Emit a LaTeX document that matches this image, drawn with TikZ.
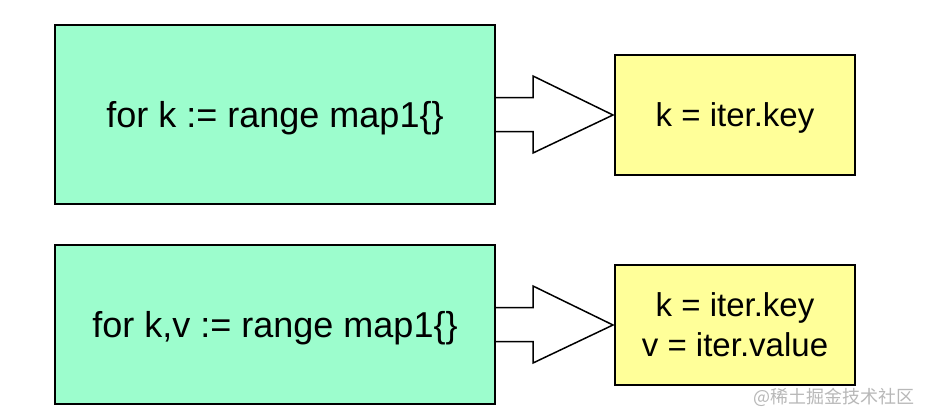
\documentclass[tikz,border=0pt]{standalone}
\usepackage{fontspec}
\setmainfont{Liberation Sans}
\newfontfamily\cjkfont{Noto Sans CJK SC}
\usetikzlibrary{calc}
\definecolor{mint}{HTML}{9CFDCD}
\definecolor{lightyellow}{HTML}{FFFF99}
\definecolor{wmgray}{HTML}{B8B8B8}
\tikzset{
  leftbox/.style={draw=black, line width=2pt, fill=mint, minimum width=440pt, inner sep=0pt, text depth=0pt, font=\fontsize{36}{40}\selectfont},
  rightbox/.style={draw=black, line width=2pt, fill=lightyellow, minimum width=240pt, minimum height=120pt, inner sep=0pt, align=center, font=\fontsize{33}{40}\selectfont},
  blockarrow/.style={draw=black, line width=1.5pt, fill=white, line join=miter},
}
\begin{document}
\begin{tikzpicture}[x=1pt, y=-1pt]
\useasboundingbox (0,0) rectangle (932,420);
\fill[white] (0,0) rectangle (932,420);
\node[leftbox, minimum height=179pt] (a1) at (275,114.5) {for k := range map1\{\}};
\node[rightbox, text depth=0pt] (b1) at (735,115) {k = iter.key};
\node[leftbox, minimum height=159pt] (a2) at (275,324.5) {for k,v := range map1\{\}};
\node[rightbox] (b2) at (735,325) {k = iter.key\\v = iter.value};
\foreach \s/\t in {a1/b1, a2/b2} {
  \draw[blockarrow] ($(\s.east)+(0,-17)$) -- ++(37,0) -- ++(0,-21.5)
     -- ($(\t.west)+(-1,0)$) -- ($(\s.east)+(37,38.5)$) -- ++(0,-21.5) -- ($(\s.east)+(0,17)$);
}
\node[text=wmgray, font=\cjkfont\fontsize{18}{20}\selectfont, anchor=east] (wm) at (918,397) {@稀土掘金技术社区};
\end{tikzpicture}
\end{document}
